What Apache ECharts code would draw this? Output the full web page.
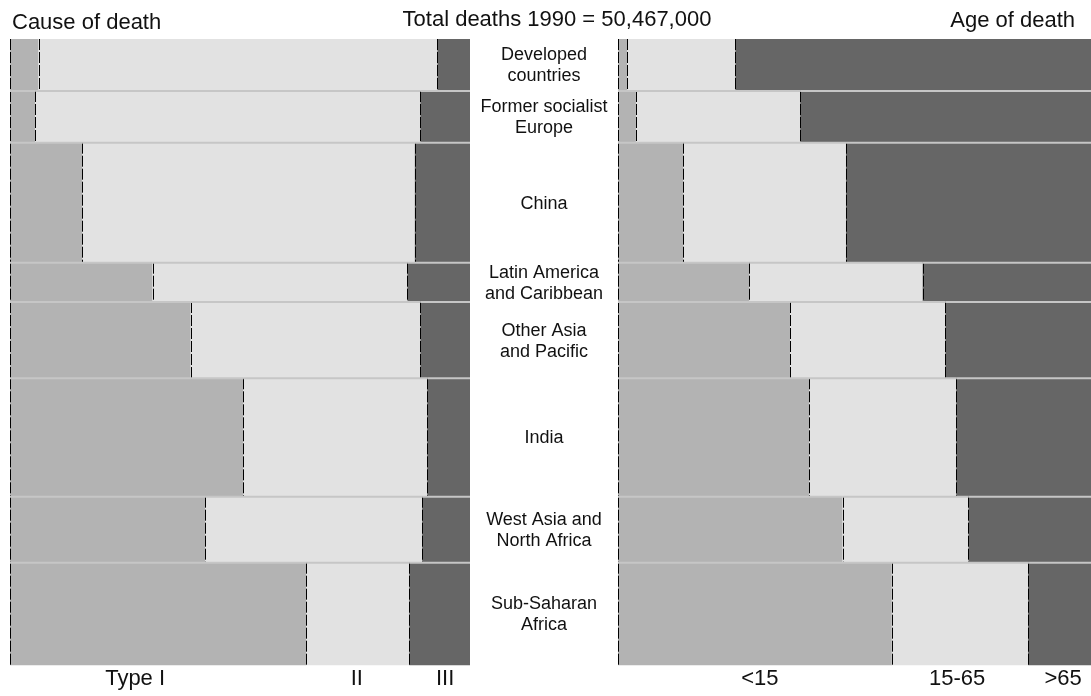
<!DOCTYPE html>
<html>
<head>
<meta charset="utf-8">
<script src="https://cdn.jsdelivr.net/npm/echarts@6/dist/echarts.min.js"></script>
<style>
html,body{margin:0;padding:0;background:#fff;}
#chart{width:1091px;height:696px;}
</style>
</head>
<body>
<div id="chart"></div>
<script>
// ---- data ----
const regions = [
  "Developed\ncountries",
  "Former socialist\nEurope",
  "China",
  "Latin America\nand Caribbean",
  "Other Asia\nand Pacific",
  "India",
  "West Asia and\nNorth Africa",
  "Sub-Saharan\nAfrica"
];
// deaths in thousands (row heights)
const deaths = [4190, 4166, 9669, 3167, 6148, 9540, 5318, 8267];
// cause of death shares (%)
const causeTypeI   = [6.2, 5.5, 15.7, 31.0, 39.3, 50.7, 42.4, 64.4];
const causeTypeII  = [86.7, 83.7, 72.3, 55.4, 49.9, 40.0, 47.2, 22.4];
const causeTypeIII = [7.1, 10.8, 12.0, 13.6, 10.8, 9.3, 10.4, 13.2];
// age of death shares (%)
const ageUnder15 = [2.0, 3.8, 13.8, 27.8, 36.4, 40.4, 47.5, 57.9];
const age15to65  = [22.8, 34.7, 34.4, 36.6, 32.8, 31.1, 26.6, 28.8];
const ageOver65  = [75.2, 61.5, 51.8, 35.6, 30.8, 28.5, 25.9, 13.3];
// tick labels
const causeTicks = ["Type I", "II", "III"];
const ageTicks = ["<15", "15-65", ">65"];
const titleLeft = "Cause of death";
const titleCenter = "Total deaths 1990 = 50,467,000";
const titleRight = "Age of death";

// ---- build ----
const FONT = "'Liberation Sans', Arial, sans-serif";
const colors = ["#b3b3b3", "#e2e2e2", "#666666"];
const total = deaths.reduce((a, b) => a + b, 0);

function buildRects(segs) {
  const out = [];
  let y = 0;
  for (let i = 0; i < deaths.length; i++) {
    let x = 0;
    for (let s = 0; s < segs.length; s++) {
      out.push([x, x + segs[s][i], y, y + deaths[i], s]);
      x += segs[s][i];
    }
    y += deaths[i];
  }
  return out;
}
function buildLabels() {
  const out = [];
  let y = 0;
  for (let i = 0; i < deaths.length; i++) {
    out.push([0.5, y + deaths[i] / 2, i]);
    y += deaths[i];
  }
  return out;
}

function renderRect(params, api) {
  const p0 = api.coord([api.value(0), api.value(2)]);
  const p1 = api.coord([api.value(1), api.value(3)]);
  const seg = api.value(4);
  const children = [
    { type: 'rect', shape: { x: p0[0], y: p0[1], width: p1[0] - p0[0], height: p1[1] - p0[1] },
      style: { fill: colors[seg] }, z2: 0 },
    { type: 'line', shape: { x1: Math.round(p0[0]) + 0.5, y1: p0[1], x2: Math.round(p0[0]) + 0.5, y2: p1[1] },
      style: { stroke: '#000', lineWidth: 1, lineDash: [11, 2] }, z2: 1 }
  ];
  if (api.value(2) > 0) {
    children.push({ type: 'line', shape: { x1: p0[0], y1: p0[1], x2: p1[0], y2: p0[1] },
      style: { stroke: '#c6c6c6', lineWidth: 2 }, z2: 2 });
  }
  return { type: 'group', children: children };
}

function renderLabel(params, api) {
  const p = api.coord([api.value(0), api.value(1)]);
  return {
    type: 'text', x: p[0], y: p[1] + 1,
    style: { text: regions[api.value(2)], fontSize: 18, lineHeight: 21, fontFamily: FONT,
      fill: '#111', align: 'center', verticalAlign: 'middle' }
  };
}

const causeTickPos = [27.2, 75.4, 94.6];
const ageTickPos = [30.0, 71.7, 94.1];
function tickFormatter(pos, labels) {
  return function (v) {
    let best = 0;
    for (let i = 1; i < pos.length; i++) if (Math.abs(pos[i] - v) < Math.abs(pos[best] - v)) best = i;
    return labels[best];
  };
}

const gridTop = 39, gridH = 626.3;
const xAxisBase = (labelPos, labels) => ({
  type: 'value', min: 0, max: 100,
  axisLine: { show: false }, axisTick: { show: false }, splitLine: { show: false },
  axisLabel: { customValues: labelPos, formatter: tickFormatter(labelPos, labels),
    fontSize: 22, lineHeight: 22, fontFamily: FONT, color: '#111', margin: 3 }
});
const yAxisBase = { type: 'value', min: 0, max: total, inverse: true, show: false };

const option = {
  animation: false,
  backgroundColor: '#fff',
  grid: [
    { left: 10, top: gridTop, width: 460, height: gridH },
    { left: 470, top: gridTop, width: 148, height: gridH },
    { left: 618, top: gridTop, width: 473, height: gridH }
  ],
  xAxis: [
    Object.assign({ gridIndex: 0 }, xAxisBase(causeTickPos, causeTicks)),
    { gridIndex: 1, type: 'value', min: 0, max: 1, show: false },
    Object.assign({ gridIndex: 2 }, xAxisBase(ageTickPos, ageTicks))
  ],
  yAxis: [
    Object.assign({ gridIndex: 0 }, yAxisBase),
    Object.assign({ gridIndex: 1 }, yAxisBase),
    Object.assign({ gridIndex: 2 }, yAxisBase)
  ],
  graphic: [
    { type: 'text', x: 12, y: 23, style: { text: titleLeft, fontSize: 22, fontFamily: FONT, fill: '#111', align: 'left', verticalAlign: 'middle' } },
    { type: 'text', x: 557, y: 20, style: { text: titleCenter, fontSize: 22, fontFamily: FONT, fill: '#111', align: 'center', verticalAlign: 'middle' } },
    { type: 'text', x: 1075, y: 21, style: { text: titleRight, fontSize: 22, fontFamily: FONT, fill: '#111', align: 'right', verticalAlign: 'middle' } }
  ],
  series: [
    { type: 'custom', xAxisIndex: 0, yAxisIndex: 0, renderItem: renderRect,
      encode: { x: [0, 1], y: [2, 3] }, data: buildRects([causeTypeI, causeTypeII, causeTypeIII]) },
    { type: 'custom', xAxisIndex: 1, yAxisIndex: 1, renderItem: renderLabel,
      encode: { x: 0, y: 1 }, data: buildLabels() },
    { type: 'custom', xAxisIndex: 2, yAxisIndex: 2, renderItem: renderRect,
      encode: { x: [0, 1], y: [2, 3] }, data: buildRects([ageUnder15, age15to65, ageOver65]) }
  ]
};

const chart = echarts.init(document.getElementById('chart'), null, { renderer: 'canvas' });
chart.setOption(option);
</script>
</body>
</html>
